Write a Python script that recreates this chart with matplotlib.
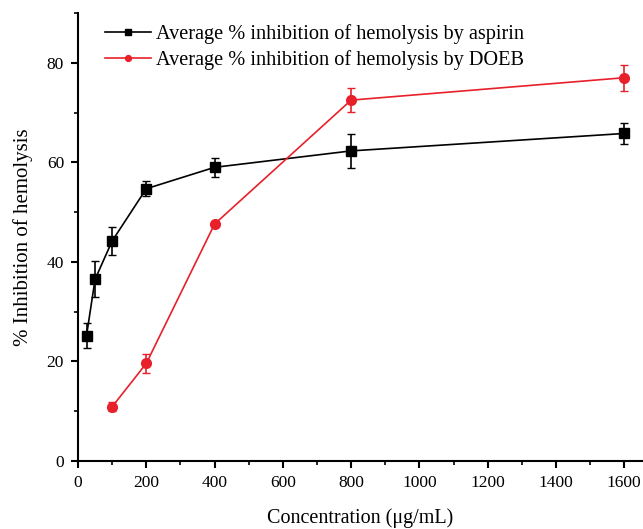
import matplotlib.pyplot as plt
from matplotlib.ticker import MultipleLocator

plt.rcParams['font.family'] = ['Liberation Serif', 'DejaVu Serif']

# aspirin series
asp_conc = [25, 50, 100, 200, 400, 800, 1600]
asp_inhib = [25.2, 36.5, 44.2, 54.7, 59.0, 62.3, 65.8]
asp_err = [2.5, 3.6, 2.9, 1.5, 1.9, 3.4, 2.1]

# DOEB series
doeb_conc = [100, 200, 400, 800, 1600]
doeb_inhib = [10.9, 19.6, 47.6, 72.5, 77.0]
doeb_err = [0.9, 2.0, 0.5, 2.4, 2.6]

red = '#e8202a'

fig = plt.figure(figsize=(6.43, 5.29), dpi=100)
ax = fig.add_axes([0.1213, 0.1285, 0.8787, 0.8469])

ax.errorbar(asp_conc, asp_inhib, yerr=asp_err, fmt='none', ecolor='black',
            elinewidth=1.2, capsize=3)
ax.errorbar(doeb_conc, doeb_inhib, yerr=doeb_err, fmt='none', ecolor=red,
            elinewidth=1.2, capsize=3)
ax.plot(asp_conc, asp_inhib, color='black', marker='s', markersize=7,
        linewidth=1.2, label='Average % inhibition of hemolysis by aspirin')
ax.plot(doeb_conc, doeb_inhib, color=red, marker='o', markersize=7,
        linewidth=1.2, label='Average % inhibition of hemolysis by DOEB')

ax.set_xlim(0, 1655)
ax.set_ylim(0, 90)
ax.xaxis.set_major_locator(MultipleLocator(200))
ax.xaxis.set_minor_locator(MultipleLocator(100))
ax.yaxis.set_major_locator(MultipleLocator(20))
ax.yaxis.set_minor_locator(MultipleLocator(10))

for side in ['top', 'right']:
    ax.spines[side].set_visible(False)
for side in ['left', 'bottom']:
    ax.spines[side].set_linewidth(1.5)

ax.tick_params(which='major', direction='out', length=5, width=1.5,
               labelsize=12.5, pad=5)
ax.tick_params(which='minor', direction='out', length=3, width=1.2)

ax.set_xlabel('Concentration (μg/mL)', fontsize=14.5, labelpad=12.5)
ax.set_ylabel('% Inhibition of hemolysis', fontsize=15, labelpad=10)

ax.legend(loc='upper left', bbox_to_anchor=(0.015, 1.015), frameon=False,
          fontsize=14.6, handlelength=2.3, handletextpad=0.25, labelspacing=0.3,
          markerscale=0.6)

fig.savefig('out.png')
